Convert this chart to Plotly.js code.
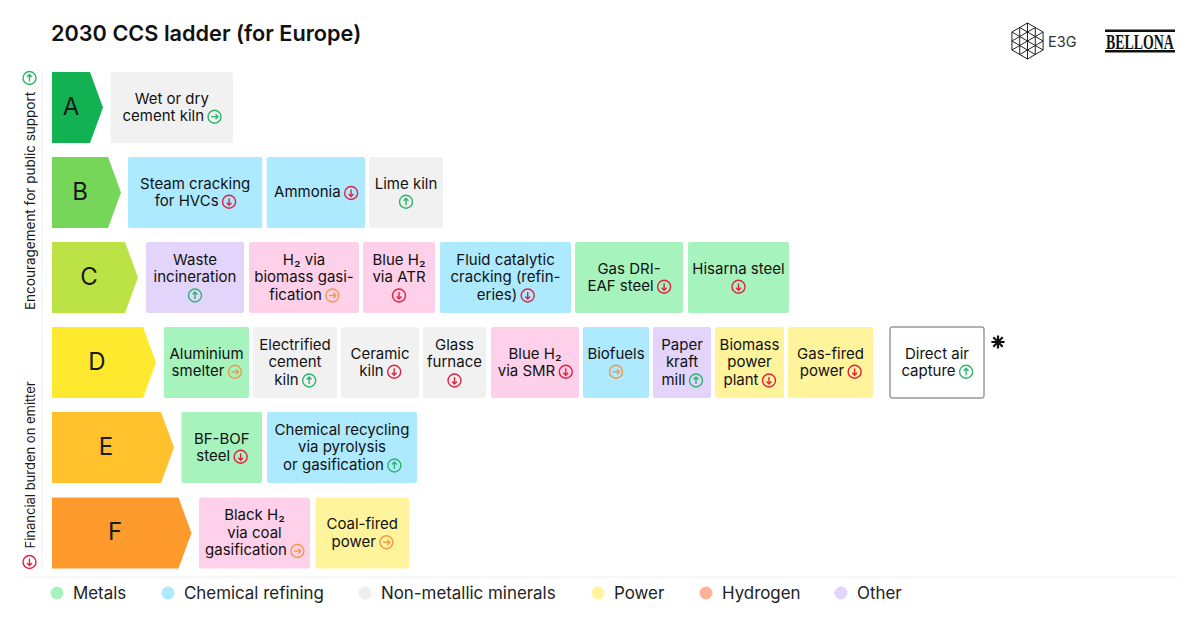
<!DOCTYPE html>
<html><head><meta charset="utf-8">
<script src="https://cdn.plot.ly/plotly-3.0.1.min.js"></script>
<style>html,body{margin:0;padding:0;background:#fff}#c{width:1200px;height:627px}</style>
</head><body><div id="c"></div>
<script>
// ---- content ----
const rungs = ['A','B','C','D','E','F'];
const sectors = ['Metals','Chemical refining','Non-metallic minerals','Power','Hydrogen','Other'];
const tileNames = [
 'Wet or dry\ncement kiln',
 'Steam cracking\nfor HVCs','Ammonia','Lime kiln\n',
 'Waste\nincineration\n','H₂ via\nbiomass gasi-\nfication','Blue H₂\nvia ATR\n','Fluid catalytic\ncracking (refin-\neries)','Gas DRI-\nEAF steel','Hisarna steel\n',
 'Aluminium\nsmelter','Electrified\ncement\nkiln','Ceramic\nkiln','Glass\nfurnace\n','Blue H₂\nvia SMR','Biofuels\n','Paper\nkraft\nmill','Biomass\npower\nplant','Gas-fired\npower','Direct air\ncapture',
 'BF-BOF\nsteel','Chemical recycling\nvia pyrolysis\nor gasification',
 'Black H₂\nvia coal\ngasification','Coal-fired\npower'];
const tileRung = [0, 1,1,1, 2,2,2,2,2,2, 3,3,3,3,3,3,3,3,3,3, 4,4, 5,5];
const tileSector = ['Non-metallic minerals',
 'Chemical refining','Chemical refining','Non-metallic minerals',
 'Other','Hydrogen','Hydrogen','Chemical refining','Metals','Metals',
 'Metals','Non-metallic minerals','Non-metallic minerals','Non-metallic minerals','Hydrogen','Chemical refining','Other','Power','Power','None',
 'Metals','Chemical refining',
 'Hydrogen','Power'];
const tileTrend = ['flat-good',
 'down','down','up',
 'up','flat','down','down','down','down',
 'flat','up','down','down','down','flat','up','down','down','up',
 'down','up',
 'flat','flat'];

// ---- geometry (pixels on the 1200x627 axes) ----
const tileFrom = [110.5, 128,266.7,369, 146,249,363,440,575,688, 164,253,341,423,491,583,653,715,788,890, 181.5,267, 199,315.5];
const tileTo   = [233, 262.3,365,443, 244,359,435,571,683,789, 249,337,419,486,579,649,711,784,873,984, 262,417, 310,409];
const rowCentre = [107.5,192.5,277.5,362.5,447.5,533];
const rowHeight = 71;
const rungLeft = 52, rungTip = [103,121,138,156,174,191.5], rungPoint = 13;
const rungLabelX = [71,80,89,97,106,115];
const legendX = [57,168,365,598,706,841];

// ---- styles ----
const rungColor = ['#12b253','#75d65a','#bbe345','#ffe92e','#ffc12c','#ff9a2c'];
const sectorFill = {'Metals':'#a6f3bd','Chemical refining':'#aeeaff','Non-metallic minerals':'#f1f1f1','Power':'#fff49c','Hydrogen':'#ffd0e9','Other':'#e2d4fb'};
const legendDot = {'Metals':'#a6f3bd','Chemical refining':'#aeeaff','Non-metallic minerals':'#eeeeee','Power':'#fff49c','Hydrogen':'#ffb29a','Other':'#e2d4fb'};
const trendColor = {'up':'#2bb56c','flat-good':'#2bb56c','down':'#e0223f','flat':'#ef9a4b'};
const FONT = 'Inter, sans-serif', INK = '#111111', TS = 15, LH = 17.5;

const ctx = document.createElement('canvas').getContext('2d');
ctx.font = TS + 'px Inter';

const traces = [];
// rung pentagons
rungs.forEach((r,i)=>{
  const t=rowCentre[i]-rowHeight/2, b=rowCentre[i]+rowHeight/2, s=rungTip[i]-rungPoint;
  traces.push({type:'scatter',mode:'lines',name:'Rung '+r,
    x:[rungLeft,s,rungTip[i],s,rungLeft,rungLeft], y:[t,t,rowCentre[i],b,b,t],
    fill:'toself',fillcolor:rungColor[i],line:{width:0},hoverinfo:'skip'});
});
// tiles as floating horizontal bars, one trace per sector
sectors.concat(['None']).forEach(sec=>{
  const idx=tileSector.map((s,i)=>s===sec?i:-1).filter(i=>i>=0);
  traces.push({type:'bar',orientation:'h',name:sec,
    y:idx.map(i=>rowCentre[tileRung[i]]),
    base:idx.map(i=>tileFrom[i]),
    x:idx.map(i=>tileTo[i]-tileFrom[i]),
    width:rowHeight,
    marker:{color:sec==='None'?'#ffffff':sectorFill[sec],cornerradius:2,
      line:sec==='None'?{color:'#666666',width:1}:{width:0}},
    hoverinfo:'skip'});
});
// text lines and trend icons
const lx=[],ly=[],lt=[];
const icons={up:{x:[],y:[]},'flat-good':{x:[],y:[]},down:{x:[],y:[]},flat:{x:[],y:[]}};
const ICON=13, GAP=4, TEXT_DY=1.7, ICON_DY=1;
function addIcon(tr,cx,cy){
  const ic=icons[tr]; ic.x.push(cx); ic.y.push(cy);
}
function arrowPath(tr,cx,cy){
  const a=3.4,h=2.4;
  if(tr==='up') return {x:[cx,cx,null,cx-h,cx,cx+h,null],y:[cy+a,cy-a,null,cy-a+h,cy-a,cy-a+h,null]};
  if(tr==='down') return {x:[cx,cx,null,cx-h,cx,cx+h,null],y:[cy-a,cy+a,null,cy+a-h,cy+a,cy+a-h,null]};
  return {x:[cx-a,cx+a,null,cx+a-h,cx+a,cx+a-h,null],y:[cy,cy,null,cy-h,cy,cy+h,null]};
}
tileNames.forEach((n,i)=>{
  const lines=n.split('\n'), cx=(tileFrom[i]+tileTo[i])/2, cy=rowCentre[tileRung[i]]-0.5;
  lines.forEach((ln,k)=>{
    const y=cy+(k-(lines.length-1)/2)*LH, last=k===lines.length-1;
    if(last){
      if(ln===''){ addIcon(tileTrend[i],cx,y+ICON_DY); return; }
      const w=ctx.measureText(ln).width, total=w+GAP+ICON, left=cx-total/2;
      lx.push(left+w/2); ly.push(y+TEXT_DY); lt.push(ln);
      addIcon(tileTrend[i],left+w+GAP+ICON/2,y+ICON_DY);
    } else { lx.push(cx); ly.push(y+TEXT_DY); lt.push(ln); }
  });
});
traces.push({type:'scatter',mode:'text',name:'Tile labels',x:lx,y:ly,text:lt,textposition:'middle center',
  textfont:{family:FONT,size:TS,color:INK},hoverinfo:'skip'});
// side-axis icons
addIcon('up',29.5,78); addIcon('down',29.5,562);
Object.keys(icons).forEach(k=>{
  const ic=icons[k], ax=[],ay=[];
  ic.x.forEach((x,j)=>{const p=arrowPath(k,x,ic.y[j]); ax.push(...p.x); ay.push(...p.y);});
  traces.push({type:'scatter',mode:'markers',name:'Trend '+k,x:ic.x,y:ic.y,
    marker:{symbol:'circle-open',size:ICON,color:trendColor[k],line:{width:1.4,color:trendColor[k]}},hoverinfo:'skip'});
  traces.push({type:'scatter',mode:'lines',name:'Arrow '+k,x:ax,y:ay,connectgaps:false,
    line:{color:trendColor[k],width:1.4},hoverinfo:'skip'});
});
// rung letters
traces.push({type:'scatter',mode:'text',name:'Rung labels',x:rungLabelX,y:rowCentre.map(v=>v+1),text:rungs,textposition:'middle center',
  textfont:{family:FONT,size:24,color:'#1a1a1a'},hoverinfo:'skip'});
// legend row
traces.push({type:'scatter',mode:'markers',name:'Legend dots',x:legendX,y:sectors.map(()=>593),
  marker:{size:13,color:sectors.map(s=>legendDot[s])},hoverinfo:'skip'});
traces.push({type:'scatter',mode:'text',name:'Legend labels',x:legendX.map(v=>v+16),y:sectors.map(()=>594.7),text:sectors,
  textposition:'middle right',textfont:{family:FONT,size:16.9,color:'#222222'},hoverinfo:'skip'});
// asterisk note
traces.push({type:'scatter',mode:'markers',name:'Note',x:[998],y:[342],
  marker:{symbol:'asterisk-open',size:11,color:'#111111',line:{width:2.2,color:'#111111'}},hoverinfo:'skip'});
// E3G logo mark
(function(){
  const cx=1027.5,cy=41,R=18,V=[],M=[],X=[],Y=[];
  for(let i=0;i<6;i++){const a=(i*60-90)*Math.PI/180;V.push([cx+R*Math.cos(a),cy+R*Math.sin(a)]);}
  for(let i=0;i<6;i++){const p=V[i],q=V[(i+1)%6];M.push([(p[0]+q[0])/2,(p[1]+q[1])/2]);}
  const seg=(p,q)=>{X.push(p[0],q[0],null);Y.push(p[1],q[1],null);};
  for(let i=0;i<6;i++)seg(V[i],V[(i+1)%6]);
  for(let i=0;i<3;i++)seg(V[i],V[i+3]);
  for(let i=0;i<6;i++)seg(M[i],M[(i+2)%6]);
  traces.push({type:'scatter',mode:'lines',name:'E3G mark',x:X,y:Y,line:{color:'#222222',width:1},hoverinfo:'skip'});
})();

const ann=(x,y,text,o)=>Object.assign({xref:'x',yref:'y',x,y,text,showarrow:false,
  font:{family:FONT,size:13.5,color:'#1a1a1a'}},o||{});
const layout={
  width:1200,height:627,margin:{l:0,r:0,t:0,b:0},paper_bgcolor:'#fff',plot_bgcolor:'#fff',showlegend:false,
  barmode:'overlay',
  title:{text:'2030 CCS ladder (for Europe)',x:51/1200,xanchor:'left',y:1-33/627,yanchor:'middle',
    font:{family:FONT,size:21.7,weight:600,color:'#111111'}},
  xaxis:{range:[0,1200],visible:false,fixedrange:true},
  yaxis:{range:[627,0],visible:false,fixedrange:true},
  shapes:[
    {type:'line',xref:'x',yref:'y',x0:42,x1:42,y0:72,y1:568,line:{color:'#f0f0f0',width:1}},
    {type:'line',xref:'x',yref:'y',x0:22,x1:1178,y0:577,y1:577,line:{color:'#f0f0f0',width:1}},
    {type:'rect',xref:'x',yref:'y',x0:1105,x1:1175,y0:29.5,y1:32,fillcolor:'#111',line:{width:0}},
    {type:'rect',xref:'x',yref:'y',x0:1105,x1:1175,y0:50,y1:52.5,fillcolor:'#111',line:{width:0}}
  ],
  annotations:[
    ann(29.5,200.5,'Encouragement for public support',{textangle:-90}),
    ann(29.5,465,'Financial burden on emitter',{textangle:-90,font:{family:FONT,size:13,color:'#1a1a1a'}}),
    ann(1062.5,41,'E3G',{font:{family:FONT,size:14.5,color:'#333333'}}),
    ann(1140,41,'BELLONA',{font:{family:'Liberation Serif',size:22,weight:700,color:'#111111'}})
  ]
};
Plotly.newPlot('c',traces,layout,{staticPlot:true,displayModeBar:false}).then(gd=>{
  gd.querySelectorAll('.annotation').forEach(g=>{
    if(g.textContent.trim()==='BELLONA'){
      g.style.transformBox='fill-box';g.style.transformOrigin='center';g.style.transform='scaleX(0.63)';
    }
  });
});
</script></body></html>
